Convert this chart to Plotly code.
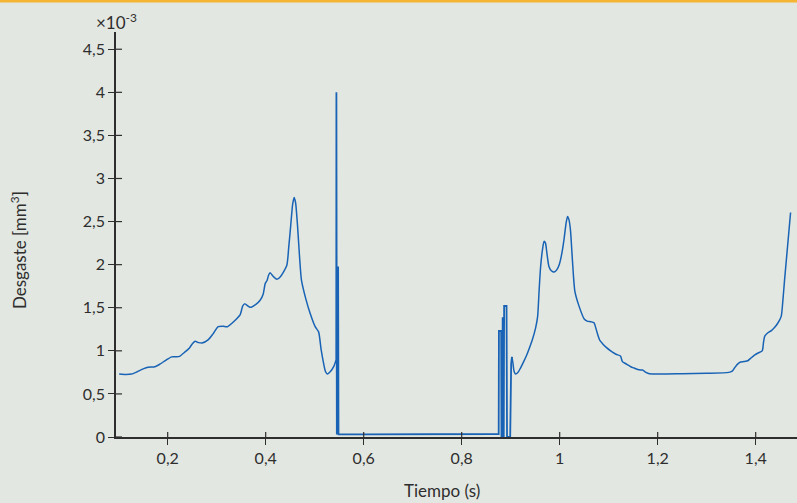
import plotly.graph_objects as go

# ---- data (values in units of 1e-3 mm^3) ----
left_t = [0.101, 0.115, 0.126, 0.137, 0.150, 0.160, 0.174, 0.184, 0.196, 0.208, 0.218, 0.224,
          0.236, 0.244, 0.250, 0.256, 0.263, 0.270, 0.283, 0.293, 0.303, 0.313, 0.322, 0.335,
          0.348, 0.353, 0.357, 0.368, 0.380, 0.389, 0.395, 0.399, 0.403, 0.406, 0.409, 0.416,
          0.423, 0.430, 0.443, 0.447, 0.451, 0.455, 0.458, 0.461, 0.465, 0.469, 0.473, 0.482,
          0.491, 0.501, 0.508, 0.513, 0.518, 0.522, 0.526, 0.532, 0.539, 0.544]
left_w = [0.73, 0.725, 0.73, 0.755, 0.79, 0.81, 0.815, 0.845, 0.89, 0.93, 0.93, 0.935,
          0.99, 1.03, 1.08, 1.11, 1.095, 1.09, 1.13, 1.20, 1.28, 1.285, 1.28, 1.34,
          1.42, 1.52, 1.545, 1.505, 1.54, 1.59, 1.66, 1.78, 1.82, 1.88, 1.905, 1.86,
          1.83, 1.86, 1.99, 2.20, 2.45, 2.70, 2.78, 2.72, 2.45, 2.10, 1.82, 1.60,
          1.43, 1.28, 1.22, 1.02, 0.86, 0.76, 0.73, 0.76, 0.82, 0.90]

spike_t = [0.544, 0.5443, 0.5452, 0.5478, 0.5486, 0.60, 0.70, 0.80, 0.8755, 0.8760, 0.8805,
           0.8812, 0.8830, 0.8836, 0.8845, 0.8858, 0.8866, 0.8915, 0.8925, 0.8990, 0.9010, 0.9025]
spike_w = [0.90, 4.00, 0.03, 1.98, 0.03, 0.03, 0.03, 0.035, 0.035, 1.23, 1.23,
           0.0, 0.0, 1.39, 0.0, 0.0, 1.52, 1.52, 0.0, 0.0, 0.85, 0.93]

right_t = [0.9025, 0.9045, 0.907, 0.910, 0.915, 0.920, 0.927, 0.934, 0.944, 0.951, 0.955,
           0.958, 0.961, 0.965, 0.968, 0.971, 0.974, 0.978, 0.983, 0.989, 0.994, 0.999,
           1.004, 1.009, 1.013, 1.016, 1.019, 1.022, 1.026, 1.031, 1.040, 1.050, 1.056,
           1.064, 1.070, 1.074, 1.077, 1.082, 1.087, 1.095, 1.104, 1.115, 1.124, 1.128,
           1.135, 1.145, 1.152, 1.162, 1.169, 1.176, 1.183, 1.25, 1.30, 1.345, 1.352,
           1.3567, 1.362, 1.368, 1.376, 1.384, 1.391, 1.3975, 1.405, 1.4133, 1.416, 1.4185,
           1.4249, 1.432, 1.4384, 1.445, 1.4521, 1.455, 1.4589, 1.4712]
right_w = [0.93, 0.86, 0.76, 0.73, 0.75, 0.80, 0.88, 0.97, 1.125, 1.27, 1.40,
           1.70, 1.97, 2.18, 2.27, 2.25, 2.13, 1.98, 1.93, 1.915, 1.94, 2.00,
           2.12, 2.30, 2.48, 2.56, 2.52, 2.40, 2.05, 1.69, 1.51, 1.37, 1.345,
           1.337, 1.325, 1.26, 1.20, 1.12, 1.086, 1.04, 1.00, 0.96, 0.94, 0.875,
           0.85, 0.815, 0.80, 0.78, 0.777, 0.75, 0.735, 0.735, 0.74, 0.75, 0.765,
           0.80, 0.84, 0.868, 0.875, 0.885, 0.92, 0.95, 0.975, 1.00, 1.10, 1.17,
           1.21, 1.235, 1.27, 1.32, 1.40, 1.55, 1.82, 2.605]

x_tickvals = [0.2, 0.4, 0.6, 0.8, 1.0, 1.2, 1.4]
x_ticktext = ["0,2", "0,4", "0,6", "0,8", "1", "1,2", "1,4"]
y_tickvals = [0, 0.5, 1, 1.5, 2, 2.5, 3, 3.5, 4, 4.5]
y_ticktext = ["0", "0,5", "1", "1,5", "2", "2,5", "3", "3,5", "4", "4,5"]

x_range = [0.0945, 1.4843]
y_range = [0, 4.70]

BLUE = "#1863b5"
BG = "#e3e7e1"
INK = "#2e2e2e"
FONT = "Lato, 'Open Sans', sans-serif"
FS = 16
FT = 17

fig = go.Figure()
fig.add_trace(go.Scatter(x=left_t, y=left_w, mode="lines",
                         line=dict(color=BLUE, width=1.5, shape="spline", smoothing=0.6),
                         hoverinfo="skip", showlegend=False))
fig.add_trace(go.Scatter(x=spike_t, y=spike_w, mode="lines",
                         line=dict(color=BLUE, width=1.8),
                         hoverinfo="skip", showlegend=False))
fig.add_trace(go.Scatter(x=right_t, y=right_w, mode="lines",
                         line=dict(color=BLUE, width=1.5, shape="spline", smoothing=0.6),
                         hoverinfo="skip", showlegend=False))

axis_common = dict(showgrid=False, zeroline=False, showline=True, linecolor=INK,
                   linewidth=1.5, ticks="outside", ticklen=6, tickwidth=1.2,
                   tickcolor=INK, tickfont=dict(family=FONT, size=FS, color=INK))

fig.update_layout(
    width=797, height=503,
    margin=dict(l=116, r=0, t=32, b=66),
    paper_bgcolor=BG, plot_bgcolor=BG,
    xaxis=dict(range=x_range, tickmode="array", tickvals=x_tickvals,
               ticktext=x_ticktext, **axis_common),
    yaxis=dict(range=y_range, tickmode="array", tickvals=y_tickvals,
               ticktext=y_ticktext, **axis_common),
    showlegend=False,
)

# inward halves of the crossing tick marks
for tv in x_tickvals:
    fig.add_shape(type="line", xref="x", yref="y", x0=tv, x1=tv, y0=0, y1=0,
                  ysizemode="pixel", yanchor=0, line=dict(color=INK, width=1.2))
    fig.layout.shapes[-1].update(y0=0, y1=5)
for tv in y_tickvals:
    fig.add_shape(type="line", xref="x", yref="y", y0=tv, y1=tv, x0=0, x1=6,
                  xsizemode="pixel", xanchor=x_range[0], line=dict(color=INK, width=1.2))

fig.add_annotation(text="Tiempo (s)", xref="paper", yref="paper", x=0.4787, y=-0.1333,
                   showarrow=False, font=dict(family=FONT, size=FT, color=INK),
                   xanchor="center", yanchor="middle")
fig.add_annotation(text="Desgaste [mm<sup>3</sup>]", xref="paper", yref="paper",
                   x=-0.1439, y=0.4617, textangle=-90, showarrow=False,
                   font=dict(family=FONT, size=FT, color=INK),
                   xanchor="center", yanchor="middle")
fig.add_annotation(text="×10<sup>-3</sup>", xref="paper", yref="paper", x=0.0, y=1.0247,
                   showarrow=False, font=dict(family=FONT, size=FT, color=INK),
                   xanchor="center", yanchor="middle")

# orange rule at top edge
fig.add_shape(type="rect", xref="paper", yref="paper", x0=-0.2, x1=1.01,
              y0=1.0728, y1=1.09, line=dict(width=0), fillcolor="#f5b533", layer="above")

fig.write_html("out.html")
